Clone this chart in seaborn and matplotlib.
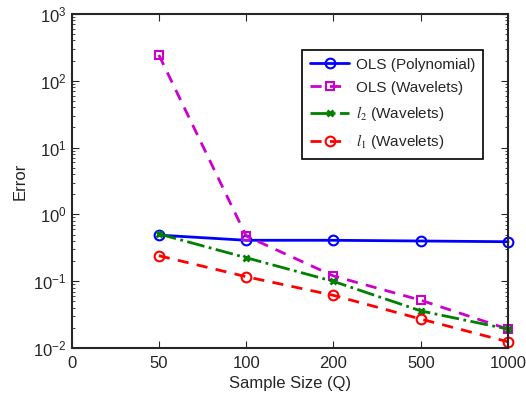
import numpy as np
import pandas as pd
import matplotlib
matplotlib.use("Agg")
import matplotlib.pyplot as plt
import seaborn as sns

sample_sizes = ["0", "50", "100", "200", "500", "1000"]
data_sizes = ["50", "100", "200", "500", "1000"]

ols_poly = [0.49, 0.41, 0.41, 0.40, 0.39]
ols_wav = [243, 0.475, 0.12, 0.052, 0.0192]
l2_wav = [0.51, 0.225, 0.0995, 0.036, 0.0192]
l1_wav = [0.241, 0.117, 0.0615, 0.0272, 0.0124]

sns.set_style("ticks")
plt.rcParams["font.family"] = ["Liberation Sans", "DejaVu Sans"]
plt.rcParams["mathtext.fontset"] = "stix"

fig, ax = plt.subplots(figsize=(5.26, 3.96), dpi=100)
fig.subplots_adjust(left=0.136, right=0.966, top=0.965, bottom=0.121)

pos = [sample_sizes.index(s) for s in data_sizes]

sns.lineplot(x=pos, y=ols_poly, ax=ax, color="#0000ff", lw=2, marker="o",
             markersize=7, markerfacecolor="none", markeredgecolor="#0000ff",
             markeredgewidth=1.5, label="OLS (Polynomial)", clip_on=False)
sns.lineplot(x=pos, y=ols_wav, ax=ax, color="#cc00cc", lw=2,
             dashes=(4, 3), marker="s", markersize=6, markerfacecolor="none",
             markeredgecolor="#cc00cc", markeredgewidth=1.5,
             label="OLS (Wavelets)", clip_on=False)
sns.lineplot(x=pos, y=l2_wav, ax=ax, color="#008000", lw=2, linestyle="-.",
             marker="x", markersize=5, markeredgecolor="#008000",
             markeredgewidth=2, label=r"$l_2$ (Wavelets)", clip_on=False)
sns.lineplot(x=pos, y=l1_wav, ax=ax, color="#ff0000", lw=2,
             dashes=(4, 3), marker="o", markersize=7, markerfacecolor="none",
             markeredgecolor="#ff0000", markeredgewidth=1.5,
             label=r"$l_1$ (Wavelets)", clip_on=False)

ax.set_yscale("log")
ax.set_ylim(1e-2, 1e3)
ax.set_xlim(0, 5)
ax.set_xticks(range(len(sample_sizes)))
ax.set_xticklabels(sample_sizes)
ax.set_xlabel("Sample Size (Q)", fontsize=12, labelpad=3)
ax.set_ylabel("Error", fontsize=12)
ax.tick_params(which="both", direction="in", top=True, right=True,
               labelsize=12)
ax.tick_params(axis="x", pad=6)
ax.tick_params(which="major", length=5)
ax.tick_params(which="minor", length=2.5)
for s in ax.spines.values():
    s.set_linewidth(1.5)
    s.set_visible(True)

leg = ax.legend(loc="upper left", bbox_to_anchor=(0.528, 0.892),
                borderaxespad=0, fontsize=11, frameon=True, fancybox=False,
                framealpha=1, edgecolor="black", handlelength=2.6,
                handletextpad=0.4, borderpad=0.5, labelspacing=0.6)
leg.get_frame().set_linewidth(1.2)

fig.savefig("out.png", dpi=100)
